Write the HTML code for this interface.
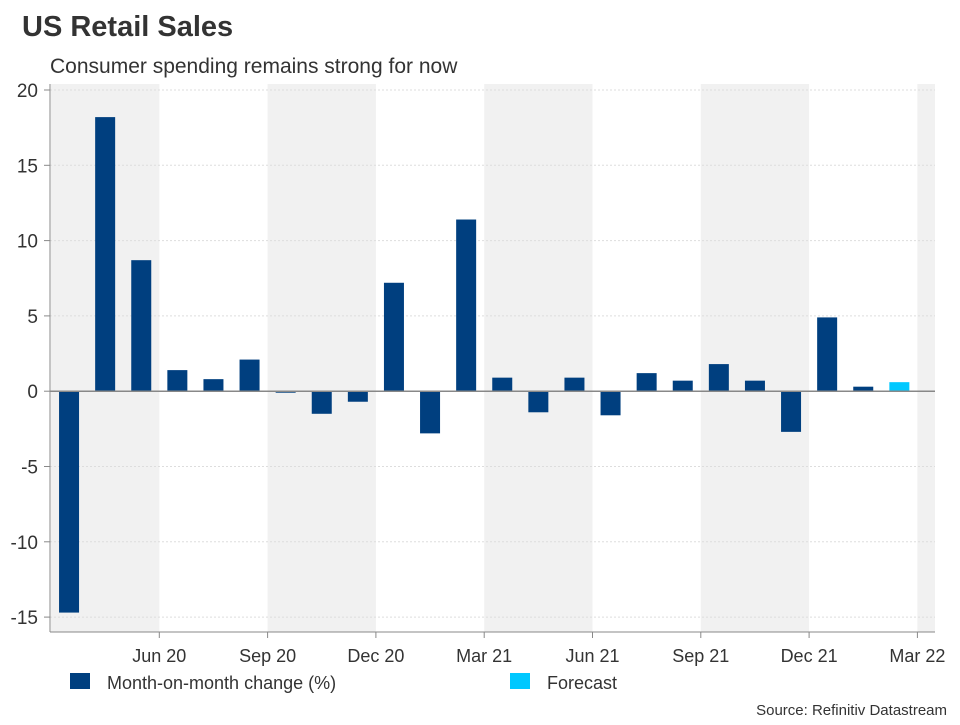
<!DOCTYPE html>
<html><head><meta charset="utf-8"><style>
body{margin:0;background:#fff;font-family:"Liberation Sans",Arial,sans-serif;}
svg text{font-family:"Liberation Sans",Arial,sans-serif;}
</style></head><body>
<svg id="c" width="960" height="720">
<text x="22" y="36" font-size="29" font-weight="bold" fill="#333">US Retail Sales</text>
<text x="50" y="73" font-size="21" fill="#333">Consumer spending remains strong for now</text>
<g id="bands"></g><g id="grid"></g><g id="bars"></g><g id="axes"></g>
<rect x="70" y="673" width="20" height="16" fill="#003f7f"/>
<text x="107" y="689" font-size="18" fill="#333">Month-on-month change (%)</text>
<rect x="510" y="673" width="20" height="16" fill="#00c8ff"/>
<text x="547" y="689" font-size="18" fill="#333">Forecast</text>
<text x="947" y="715" font-size="15" fill="#333" text-anchor="end">Source: Refinitiv Datastream</text>
</svg>
<script>
const categories=["Apr 20","May 20","Jun 20","Jul 20","Aug 20","Sep 20","Oct 20","Nov 20","Dec 20","Jan 21","Feb 21","Mar 21","Apr 21","May 21","Jun 21","Jul 21","Aug 21","Sep 21","Oct 21","Nov 21","Dec 21","Jan 22","Feb 22"];
const values=[-14.7,18.2,8.7,1.4,0.8,2.1,-0.1,-1.5,-0.7,7.2,-2.8,11.4,0.9,-1.4,0.9,-1.6,1.2,0.7,1.8,0.7,-2.7,4.9,0.3];
const forecastValues=[0.6];
const yTicks=[20,15,10,5,0,-5,-10,-15];
const xTickLabels=["Jun 20","Sep 20","Dec 20","Mar 21","Jun 21","Sep 21","Dec 21","Mar 22"];
const NS="http://www.w3.org/2000/svg";
const L=50,R=935,T=84,B=632,x0=51,step=36.1;
const y=v=>391.2-v*15.06;
const xm=i=>x0+(i+0.5)*step;
const xb=i=>x0+i*step;
function mk(t,a,p){const e=document.createElementNS(NS,t);for(const k in a)e.setAttribute(k,a[k]);document.getElementById(p).appendChild(e);return e;}
// bands: shaded quarters
for(let q=0;q<9;q+=2){const s=xb(q*3),e=Math.min(xb(q*3+3),R);if(s>=R)break;
const r=mk('rect',{x:s,y:T,width:e-s,height:B-T,fill:'#f1f1f1'},'bands');

}
yTicks.forEach(v=>{
const l=mk('line',{x1:L,x2:R,y1:y(v),y2:y(v),stroke:'#ddd','stroke-dasharray':'2,2'},'grid');


const t=mk('text',{x:38,y:y(v)+7,'font-size':19,fill:'#333','text-anchor':'end'},'axes');t.textContent=v;


mk('line',{x1:L-6,x2:L,y1:y(v),y2:y(v),stroke:'#888'},'axes');});
values.forEach((v,i)=>{const r=mk('rect',{x:xm(i)-10,y:Math.min(y(v),y(0)),width:20,height:Math.abs(y(v)-y(0)),fill:'#003f7f'},'bars');

});
forecastValues.forEach((v,j)=>{const i=values.length+j;const r=mk('rect',{x:xm(i)-10,y:Math.min(y(v),y(0)),width:20,height:Math.abs(y(v)-y(0)),fill:'#00c8ff'},'bars');

});
mk('line',{x1:L,x2:R,y1:y(0),y2:y(0),stroke:'#888','stroke-width':1.5},'axes');
mk('line',{x1:L,x2:L,y1:T,y2:B,stroke:'#888'},'axes');
mk('line',{x1:L,x2:R,y1:B,y2:B,stroke:'#888'},'axes');
xTickLabels.forEach((s,k)=>{const x=xb(3+k*3);
mk('line',{x1:x,x2:x,y1:B,y2:B+6,stroke:'#888'},'axes');
const t=mk('text',{x:x,y:B+30,'font-size':18,fill:'#333','text-anchor':'middle'},'axes');t.textContent=s;

});
</script>
</body></html>
